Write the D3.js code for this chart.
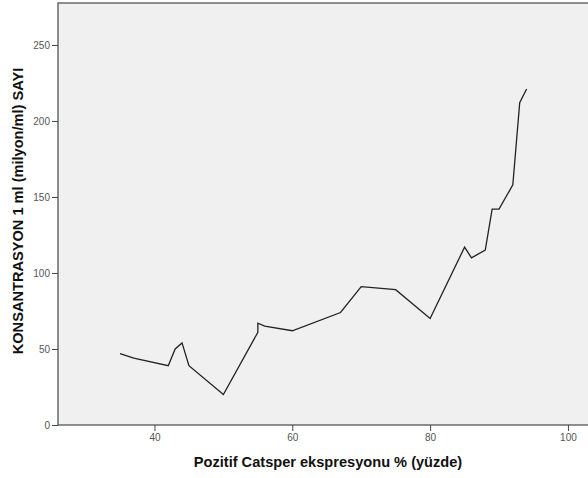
<!DOCTYPE html>
<html>
<head>
<meta charset="UTF-8">
<script src="https://cdn.jsdelivr.net/npm/d3@7"></script>
<style>
    body { margin: 0; background: #ffffff; }
    .tick text { font-family: 'Liberation Sans', Arial, sans-serif; font-size: 10px; fill: #555; }
    .axis-title { font-family: 'Liberation Sans', Arial, sans-serif; font-size: 14.6px; font-weight: bold; fill: #111; }
</style>
</head>
<body>
<svg id="chart" width="588" height="478"></svg>
<script>
    // Catsper expression (%) vs concentration (million/ml)
    var expression = [35, 37, 42, 43, 44, 45, 50, 55, 55, 56, 60, 67, 70, 75, 80, 85, 86, 88, 89, 90, 92, 93, 94];
    var concentration = [47, 44, 39, 50, 54, 39, 20, 61, 67, 65, 62, 74, 91, 89, 70, 117, 110, 115, 142, 142, 158, 212, 221];
    var xTicks = [40, 60, 80, 100];
    var yTicks = [0, 50, 100, 150, 200, 250];

    var svg = d3.select("#chart");
    var plotLeft = 58, plotRight = 590, plotTop = 3, plotBottom = 425;

    var x = d3.scaleLinear().domain([26, 103.2]).range([plotLeft, plotRight]);
    var y = d3.scaleLinear().domain([0, 277.6]).range([plotBottom, plotTop]);

    // plot background
    svg.append("rect")
        .attr("x", plotLeft).attr("y", plotTop)
        .attr("width", plotRight - plotLeft).attr("height", plotBottom - plotTop)
        .attr("fill", "#f0f0f0")
        .attr("stroke", "#555").attr("stroke-width", 1.3);

    var points = expression.map(function (d, i) { return [d, concentration[i]]; });

    svg.append("path")
        .datum(points)
        .attr("fill", "none")
        .attr("stroke", "#222")
        .attr("stroke-width", 1.3)
        .attr("stroke-linejoin", "miter")
        .attr("d", d3.line().x(function (d) { return x(d[0]); }).y(function (d) { return y(d[1]); }));

    var xAxis = svg.append("g")
        .attr("transform", "translate(0," + plotBottom + ")")
        .call(d3.axisBottom(x).tickValues(xTicks).tickSize(6).tickPadding(3));
    xAxis.select(".domain").remove();
    xAxis.selectAll(".tick line").attr("stroke", "#444");

    var yAxis = svg.append("g")
        .attr("transform", "translate(" + plotLeft + ",0)")
        .call(d3.axisLeft(y).tickValues(yTicks).tickSize(6).tickPadding(2));
    yAxis.select(".domain").remove();
    yAxis.selectAll(".tick line").attr("stroke", "#444");

    svg.append("text")
        .attr("class", "axis-title")
        .attr("x", 328).attr("y", 467)
        .attr("text-anchor", "middle")
        .text("Pozitif Catsper ekspresyonu % (yüzde)");

    svg.append("text")
        .attr("class", "axis-title")
        .attr("transform", "translate(23,211) rotate(-90)")
        .attr("text-anchor", "middle")
        .text("KONSANTRASYON 1 ml (milyon/ml) SAYI");
</script>
</body>
</html>
